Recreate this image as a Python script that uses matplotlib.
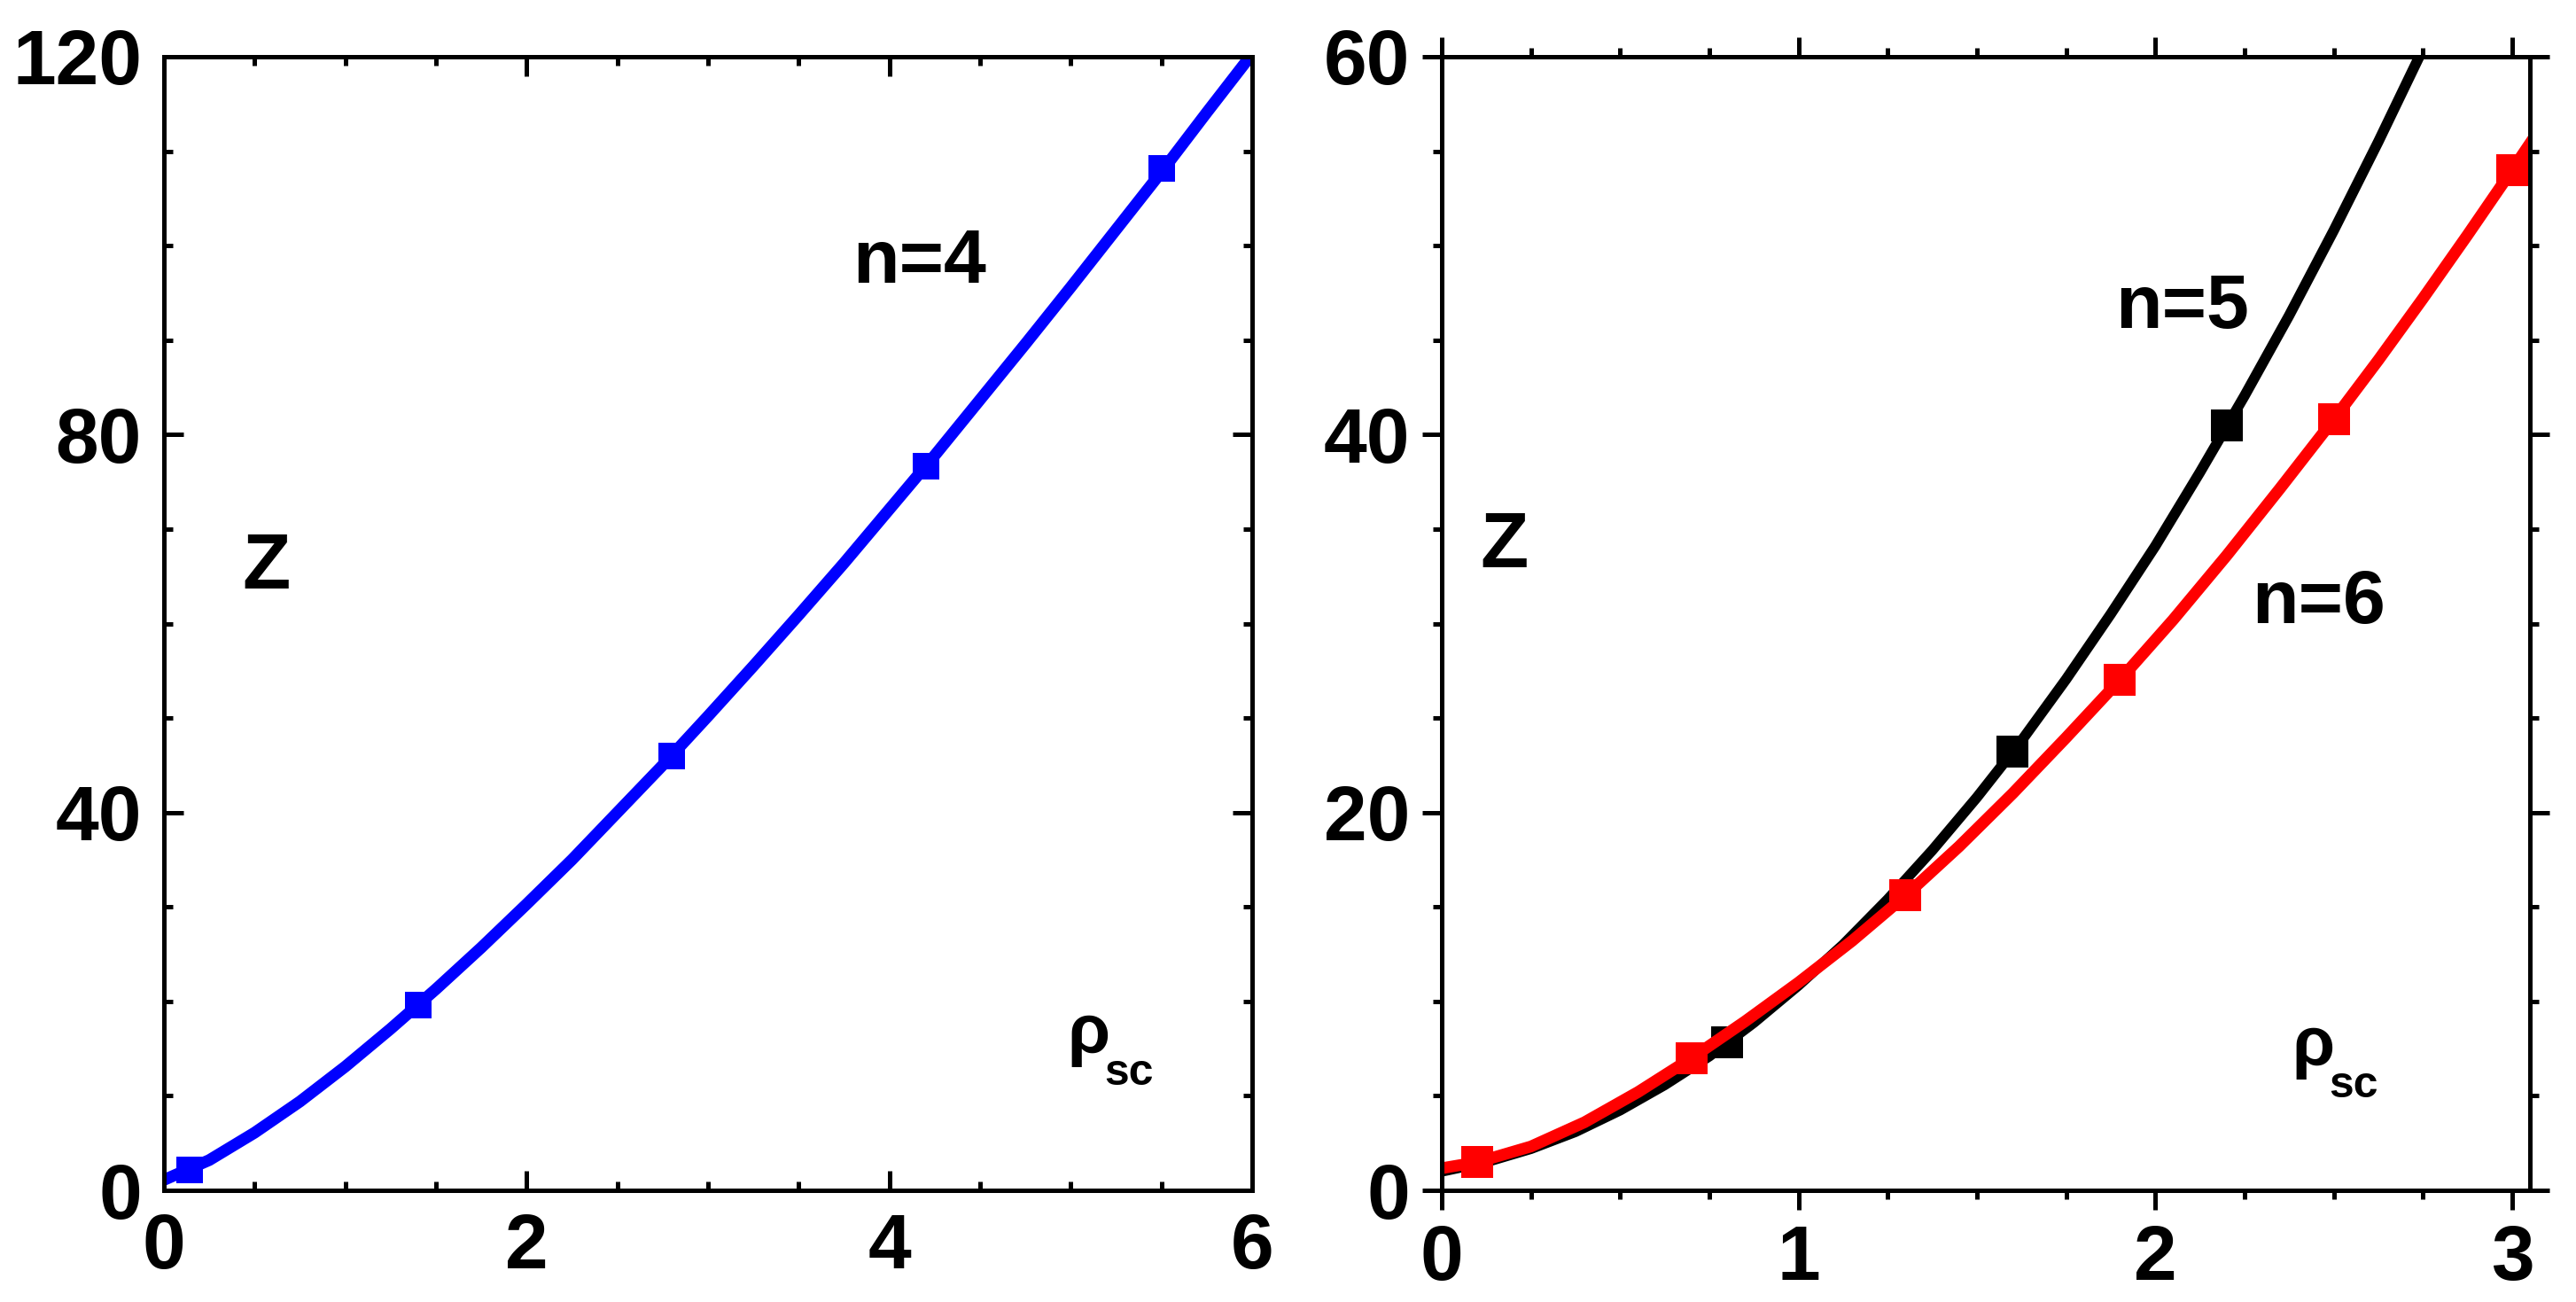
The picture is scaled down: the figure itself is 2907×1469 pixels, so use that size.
import matplotlib
matplotlib.use("Agg")
import matplotlib.pyplot as plt
from matplotlib.ticker import MultipleLocator

plt.rcParams['font.family'] = ['Liberation Sans', 'DejaVu Sans']
plt.rcParams['font.weight'] = 'bold'

# ---------------- data ----------------
# left panel, n=4 (curve)
n4_curve_x = [0, 0.25, 0.5, 0.75, 1.0, 1.25, 1.5, 1.75, 2.0, 2.25, 2.5, 2.75, 3.0,
              3.25, 3.5, 3.75, 4.0, 4.25, 4.5, 4.75, 5.0, 5.25, 5.5, 5.75, 6.0]
n4_curve_y = [1.1, 3.2, 6.1, 9.4, 13.1, 17.1, 21.3, 25.7, 30.3, 35.0, 40.0, 45.0, 50.2,
              55.5, 60.9, 66.4, 72.1, 77.8, 83.7, 89.6, 95.6, 101.7, 107.8, 114.1, 120.3]
n4_mark_x = [0.14, 1.4, 2.8, 4.2, 5.5]
n4_mark_y = [2.2, 19.6, 46.0, 76.7, 108.2]

# right panel, n=5
n5_curve_x = [0, 0.125, 0.25, 0.375, 0.5, 0.625, 0.75, 0.875, 1.0, 1.125, 1.25, 1.375,
              1.5, 1.625, 1.75, 1.875, 2.0, 2.125, 2.25, 2.375, 2.5, 2.625, 2.75]
n5_curve_y = [1.0, 1.5, 2.2, 3.1, 4.24, 5.58, 7.1, 8.88, 10.85, 13.0, 15.4, 18.0,
              20.8, 23.8, 27.05, 30.5, 34.1, 38.0, 42.05, 46.3, 50.8, 55.5, 60.4]
n5_mark_x = [0.8, 1.6, 2.2]
n5_mark_y = [7.85, 23.2, 40.5]

# right panel, n=6
n6_curve_x = [0, 0.1, 0.25, 0.4, 0.55, 0.7, 0.85, 1.0, 1.15, 1.3, 1.45, 1.6, 1.75,
              1.9, 2.05, 2.2, 2.35, 2.5, 2.625, 2.75, 2.875, 3.0, 3.05]
n6_curve_y = [1.17, 1.49, 2.32, 3.6, 5.2, 7.0, 8.94, 11.0, 13.2, 15.6, 18.2, 21.0, 23.96,
              27.0, 30.2, 33.6, 37.16, 40.8, 43.94, 47.2, 50.56, 54.0, 55.4]
n6_mark_x = [0.1, 0.7, 1.3, 1.9, 2.5, 3.0]
n6_mark_y = [1.49, 7.0, 15.6, 27.0, 40.8, 54.0]

left_xticks = [0, 2, 4, 6]
left_yticks = [0, 40, 80, 120]
right_xticks = [0, 1, 2, 3]
right_yticks = [0, 20, 40, 60]

# ---------------- figure ----------------
W, H = 2907, 1469
fig = plt.figure(figsize=(W / 100, H / 100), dpi=100)

axL = fig.add_axes([185 / W, 1 - 1343 / H, 1228 / W, 1279 / H])
axR = fig.add_axes([1627 / W, 1 - 1343 / H, 1228 / W, 1279 / H])

SPINE_W = 3.6
TICK_FS = 63

def style(ax, direction, xpad, ypad):
    for s in ax.spines.values():
        s.set_linewidth(SPINE_W)
    ax.tick_params(which='both', direction=direction, top=True, right=True,
                   width=SPINE_W, labelsize=TICK_FS)
    ax.tick_params(which='major', length=15.5)
    ax.tick_params(which='minor', length=7)
    ax.tick_params(axis='x', which='major', pad=xpad)
    ax.tick_params(axis='y', which='major', pad=ypad)
    for lab in ax.get_xticklabels() + ax.get_yticklabels():
        lab.set_fontweight('bold')

def rho_sc(ax, x, y, dx, dy):
    ax.text(x, y, 'ρ', transform=ax.transAxes, fontsize=56, fontweight='bold',
            ha='left', va='baseline')
    ax.text(x + dx, y - dy, 'sc', transform=ax.transAxes, fontsize=36,
            fontweight='bold', ha='left', va='baseline')

# left panel
axL.plot(n4_curve_x, n4_curve_y, color='#0000FF', lw=9.5, solid_joinstyle='round')
axL.plot(n4_mark_x, n4_mark_y, 's', color='#0000FF', ms=21, mew=0)
axL.set_xlim(0, 6)
axL.set_ylim(0, 120)
axL.xaxis.set_minor_locator(MultipleLocator(0.5))
axL.yaxis.set_minor_locator(MultipleLocator(10))
axL.set_xticks(left_xticks)
axL.set_yticks(left_yticks)
axL.set_xticklabels([str(v) for v in left_xticks])
axL.set_yticklabels([str(v) for v in left_yticks])
style(axL, 'in', 18, 18)

axL.text(0.633, 0.801, 'n=4', transform=axL.transAxes, fontsize=62,
         fontweight='bold', ha='left', va='baseline')
axL.text(0.072, 0.531, 'Z', transform=axL.transAxes, fontsize=64,
         fontweight='bold', ha='left', va='baseline')
rho_sc(axL, 0.830, 0.121, 0.034, 0.028)

# right panel
axR.plot(n5_curve_x, n5_curve_y, color='black', lw=8.5, solid_joinstyle='round')
axR.plot(n5_mark_x, n5_mark_y, 's', color='black', ms=26.5, mew=0)
axR.plot(n6_curve_x, n6_curve_y, color='#FF0000', lw=9.5, solid_joinstyle='round')
axR.plot(n6_mark_x, n6_mark_y, 's', color='#FF0000', ms=26.5, mew=0, clip_on=False)
axR.set_xlim(0, 3.05)
axR.set_ylim(0, 60)
axR.xaxis.set_minor_locator(MultipleLocator(0.25))
axR.yaxis.set_minor_locator(MultipleLocator(5))
axR.set_xticks(right_xticks)
axR.set_yticks(right_yticks)
axR.set_xticklabels([str(v) for v in right_xticks])
axR.set_yticklabels([str(v) for v in right_yticks])
style(axR, 'out', 12, 10)

axR.text(0.619, 0.761, 'n=5', transform=axR.transAxes, fontsize=62,
         fontweight='bold', ha='left', va='baseline')
axR.text(0.744, 0.500, 'n=6', transform=axR.transAxes, fontsize=62,
         fontweight='bold', ha='left', va='baseline')
axR.text(0.035, 0.550, 'Z', transform=axR.transAxes, fontsize=64,
         fontweight='bold', ha='left', va='baseline')
rho_sc(axR, 0.781, 0.110, 0.034, 0.028)

fig.savefig('out.png', dpi=100)
